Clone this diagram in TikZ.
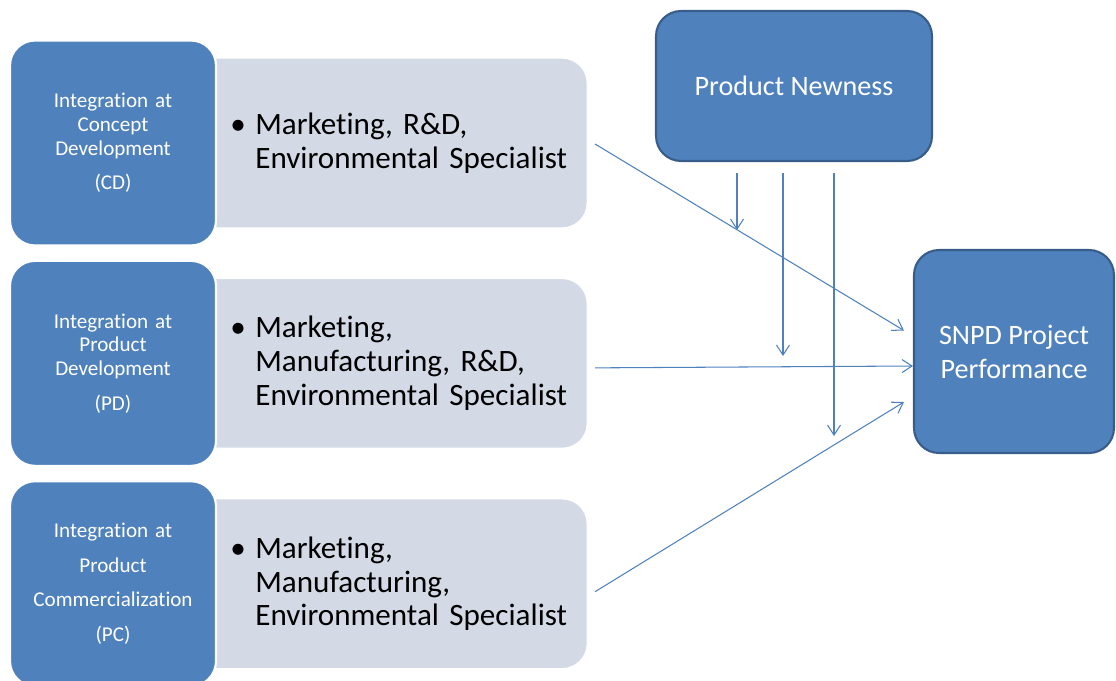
\documentclass[tikz,border=0pt]{standalone}
\usepackage{fontspec}
\setmainfont{Carlito}[Ligatures=NoCommon]
\usetikzlibrary{arrows.meta,positioning,calc}

\definecolor{accent}{HTML}{4F81BD}
\definecolor{accentdark}{HTML}{385D8A}
\definecolor{rolefill}{HTML}{D3DAE6}

\newcommand{\rolebullet}{\hspace*{0.96cm}\makebox[0.5cm][l]{\textbullet}}
\newcommand{\roleindent}{\hspace*{1.46cm}}

\begin{document}
\begin{tikzpicture}[
    x=0.02cm, y=-0.02cm,
    stage/.style={rectangle, rounded corners=0.5cm, draw=white, fill=accent, line width=1.2pt, minimum width=4.12cm, minimum height=4.1cm, text width=3.8cm, align=center, text=white, font=\fontsize{12}{13.6}\selectfont},
    role/.style={rectangle, rounded corners=0.5cm, draw=white, fill=rolefill, line width=0.8pt, minimum height=3.4cm, text width=8cm, inner xsep=0.1cm, align=left, anchor=east, font=\fontsize{17.7}{19.3}\selectfont},
    factor/.style={rectangle, rounded corners=0.5cm, draw=accentdark, fill=accent, line width=1.2pt, text=white, align=center, font=\fontsize{16}{19.3}\selectfont},
    link/.style={-{Straight Barb[length=2mm, width=2.6mm]}, draw=accent, line width=0.6pt}
]
\useasboundingbox (0,0) rectangle (1116,680);

% Team members at each stage
\node[role] (cdrole) at (588,143) {\rolebullet Marketing, R\&D,\\ \roleindent Environmental Specialist};
\node[role, below=0.98cm of cdrole] (pdrole) {\rolebullet Marketing,\\ \roleindent Manufacturing, R\&D,\\ \roleindent Environmental Specialist};
\node[role, below=0.98cm of pdrole] (pcrole) {\rolebullet Marketing,\\ \roleindent Manufacturing,\\ \roleindent Environmental Specialist};

% Integration stages
\node[stage] (cdstage) at (113,0 |- cdrole) {Integration at\\ Concept\\ Development\\[6pt] (CD)};
\node[stage] (pdstage) at (113,0 |- pdrole) {Integration at\\ Product\\ Development\\[6pt] (PD)};
\node[stage] (pcstage) at (113,0 |- pcrole) {Integration at\\[6pt] Product\\[6pt] Commercialization\\[6pt] (PC)};

% Moderator and outcome
\node[factor, minimum width=5.52cm, minimum height=3cm] (newness) at (794,86) {Product Newness};
\node[factor, minimum width=4cm, minimum height=4.06cm] (snpd) at (1014,351.5) {SNPD Project\\ Performance};

% Direct effects
\draw[link] ($(cdrole.east)+(7,1)$) -- ($(snpd.west)+(-9,-21)$);
\draw[link] ($(pdrole.east)+(7,4.5)$) -- ($(snpd.west)+(0,14.5)$);
\draw[link] ($(pcrole.east)+(7,8)$) -- ($(snpd.west)+(-9,50.5)$);

% Moderating effects
\coordinate (cdtip) at (737,230);
\coordinate (pdtip) at (783,356);
\coordinate (pctip) at (834,436);
\draw[link, shorten <=0.22cm] (newness.south -| cdtip) -- (cdtip);
\draw[link, shorten <=0.22cm] (newness.south -| pdtip) -- (pdtip);
\draw[link, shorten <=0.22cm] (newness.south -| pctip) -- (pctip);

\end{tikzpicture}
\end{document}
